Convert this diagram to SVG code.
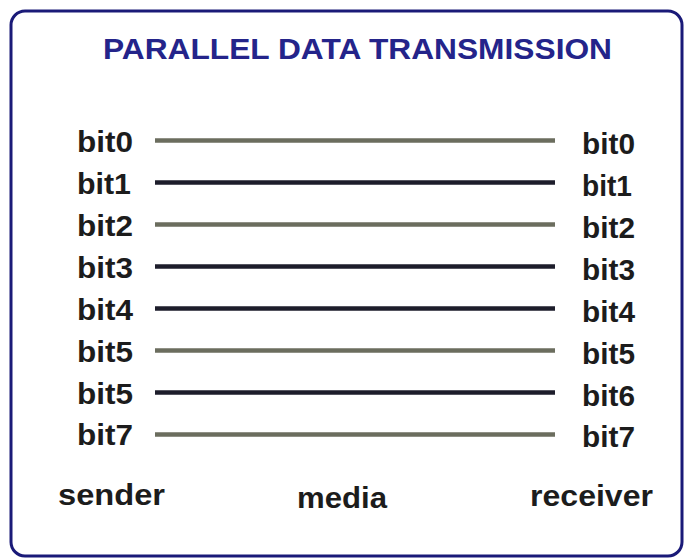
<svg xmlns="http://www.w3.org/2000/svg" width="684" height="559" viewBox="0 0 684 559">
  <style>
    .title { font-family: "Liberation Sans", Arial, sans-serif; font-size: 29px; font-weight: bold; fill: #24248a; }
    .lbl { font-family: "Liberation Sans", Arial, sans-serif; font-size: 30px; font-weight: bold; fill: #1c1c1c; }
    .wire { stroke-width: 4.5; stroke-linecap: butt; }
    .even { stroke: #6b6d5e; }
    .odd { stroke: #1d1d2b; }
  </style>
  <rect x="0" y="0" width="684" height="559" fill="#ffffff"/>
  <!-- frame -->
  <rect id="frame" x="11" y="11" width="671" height="545" rx="14" ry="14" fill="none" stroke="#1a1a78" stroke-width="3"/>
  <text id="title" class="title" x="103" y="59" textLength="509" lengthAdjust="spacingAndGlyphs">PARALLEL DATA TRANSMISSION</text>

  <!-- sender side -->
  <g id="sender">
    <text class="lbl" x="77" y="152" textLength="56" lengthAdjust="spacingAndGlyphs">bit0</text>
    <text class="lbl" x="77" y="194" textLength="54" lengthAdjust="spacingAndGlyphs">bit1</text>
    <text class="lbl" x="77" y="236" textLength="56" lengthAdjust="spacingAndGlyphs">bit2</text>
    <text class="lbl" x="77" y="278" textLength="56" lengthAdjust="spacingAndGlyphs">bit3</text>
    <text class="lbl" x="77" y="320" textLength="56" lengthAdjust="spacingAndGlyphs">bit4</text>
    <text class="lbl" x="77" y="362" textLength="56" lengthAdjust="spacingAndGlyphs">bit5</text>
    <text class="lbl" x="77" y="404" textLength="56" lengthAdjust="spacingAndGlyphs">bit5</text>
    <text class="lbl" x="77" y="445" textLength="56" lengthAdjust="spacingAndGlyphs">bit7</text>
  </g>

  <!-- receiver side -->
  <g id="receiver">
    <text class="lbl" x="582" y="154" textLength="53" lengthAdjust="spacingAndGlyphs">bit0</text>
    <text class="lbl" x="582" y="196" textLength="50" lengthAdjust="spacingAndGlyphs">bit1</text>
    <text class="lbl" x="582" y="238" textLength="53" lengthAdjust="spacingAndGlyphs">bit2</text>
    <text class="lbl" x="582" y="280" textLength="53" lengthAdjust="spacingAndGlyphs">bit3</text>
    <text class="lbl" x="582" y="322" textLength="53" lengthAdjust="spacingAndGlyphs">bit4</text>
    <text class="lbl" x="582" y="364" textLength="53" lengthAdjust="spacingAndGlyphs">bit5</text>
    <text class="lbl" x="582" y="406" textLength="53" lengthAdjust="spacingAndGlyphs">bit6</text>
    <text class="lbl" x="582" y="447" textLength="53" lengthAdjust="spacingAndGlyphs">bit7</text>
  </g>

  <!-- parallel wires -->
  <g id="media">
    <line class="wire even" x1="155" y1="140.5" x2="555" y2="140.5"/>
    <line class="wire odd" x1="155" y1="182.5" x2="555" y2="182.5"/>
    <line class="wire even" x1="155" y1="224.5" x2="555" y2="224.5"/>
    <line class="wire odd" x1="155" y1="266.5" x2="555" y2="266.5"/>
    <line class="wire odd" x1="155" y1="308.5" x2="555" y2="308.5"/>
    <line class="wire even" x1="155" y1="350.5" x2="555" y2="350.5"/>
    <line class="wire odd" x1="155" y1="392.5" x2="555" y2="392.5"/>
    <line class="wire even" x1="155" y1="434.5" x2="555" y2="434.5"/>
  </g>

  <!-- captions -->
  <g id="captions">
    <text class="lbl" x="58" y="505" textLength="107" lengthAdjust="spacingAndGlyphs">sender</text>
    <text class="lbl" x="297" y="508" textLength="90" lengthAdjust="spacingAndGlyphs">media</text>
    <text class="lbl" x="530" y="506" textLength="123" lengthAdjust="spacingAndGlyphs">receiver</text>
  </g>
</svg>
